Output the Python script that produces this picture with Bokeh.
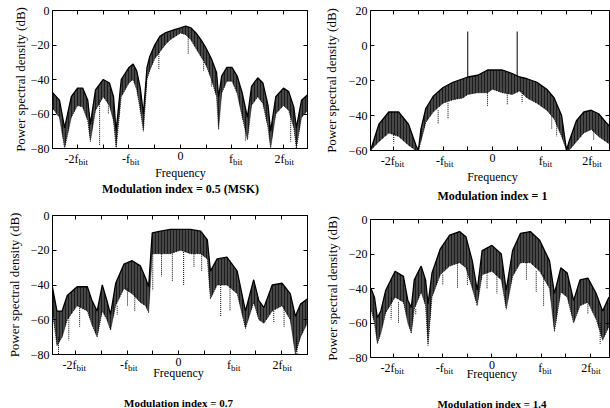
from bokeh.plotting import figure
from bokeh.models import Range1d, LinearAxis, FixedTicker
from bokeh.layouts import column, row
from bokeh.embed import file_html
from bokeh.resources import INLINE
from bokeh.core.properties import value

# ---------------- data ----------------
# frequency in units of f_bit, PSD in dB (upper edge / lower edge of the dense band)
msk_f = [-2.5, -2.35, -2.25, -2.12, -2.0, -1.9, -1.8, -1.75, -1.65, -1.5,
         -1.38, -1.3, -1.25, -1.15, -1.0, -0.92, -0.85, -0.78, -0.72, -0.65,
         -0.6, -0.5, -0.4, -0.3, -0.2, -0.1, 0.0, 0.1, 0.2, 0.3,
         0.4, 0.5, 0.6, 0.7, 0.74, 0.8, 0.9, 1.0, 1.1, 1.2,
         1.3, 1.38, 1.5, 1.6, 1.7, 1.75, 1.85, 2.0, 2.1, 2.2,
         2.25, 2.35, 2.5]
msk_up = [-47, -52, -68, -50, -45, -45, -52, -66, -46, -40,
          -42, -50, -70, -40, -33, -31, -35, -45, -60, -33,
          -27, -20, -15, -13, -12, -11, -10, -9, -10, -13,
          -17, -22, -28, -36, -50, -38, -33, -33, -38, -48,
          -62, -44, -39, -42, -55, -70, -50, -45, -47, -56,
          -68, -52, -48]
msk_lo = [-56, -62, -80, -62, -55, -56, -64, -76, -58, -50,
          -55, -64, -80, -50, -42, -40, -46, -58, -70, -40,
          -35, -28, -24, -20, -17, -15, -13, -14, -17, -22,
          -27, -32, -40, -50, -69, -48, -41, -41, -48, -62,
          -75, -55, -50, -54, -68, -80, -60, -55, -58, -68,
          -80, -62, -57]
msk_dip_f = [-1.57, -1.4, -0.42, 0.15, 0.45, 0.6, 1.26, 2.14]
msk_dip_top = [-52, -54, -24, -14, -30, -40, -62, -57]
msk_dip_bot = [-78, -60, -34, -25, -35, -44, -76, -76]

h1_f = [-2.47, -2.3, -2.1, -1.9, -1.7, -1.55, -1.5, -1.45, -1.35, -1.2,
        -1.0, -0.8, -0.6, -0.5, -0.3, -0.1, 0.0, 0.2, 0.4, 0.55,
        0.7, 0.9, 1.1, 1.25, 1.4, 1.5, 1.55, 1.7, 1.85, 2.0,
        2.15, 2.3, 2.4]
h1_up = [-60, -45, -38, -38, -45, -57, -60, -48, -36, -29,
         -24, -21, -19, -18, -17, -14, -14, -14, -16, -18,
         -19, -21, -25, -30, -40, -60, -55, -43, -38, -37,
         -39, -44, -47]
h1_lo = [-60, -55, -50, -52, -57, -60, -60, -55, -44, -38,
         -33, -31, -30, -28, -27, -27, -25, -27, -28, -26,
         -30, -33, -37, -42, -52, -60, -60, -55, -50, -48,
         -52, -55, -57]
h1_line_f = [-0.5, 0.5]
h1_line_top = [8, 8]
h1_line_bot = [-18, -18]
h1_dip_f = [-2.0, -1.1, -0.9, -0.1, 0.3, 0.6, 1.2, 1.3, 2.05]
h1_dip_top = [-50, -37, -33, -27, -27, -26, -40, -45, -48]
h1_dip_bot = [-56, -45, -42, -35, -34, -33, -48, -52, -54]

h07_f = [-2.45, -2.36, -2.26, -2.16, -1.97, -1.77, -1.68, -1.58, -1.48, -1.39,
         -1.32, -1.22, -1.06, -0.9, -0.74, -0.64, -0.58, -0.51, -0.35, -0.16,
         0.04, 0.23, 0.43, 0.56, 0.62, 0.75, 0.94, 1.14, 1.3, 1.46,
         1.56, 1.66, 1.82, 2.01, 2.17, 2.27, 2.37, 2.5]
h07_up = [-41, -55, -55, -46, -41, -41, -49, -55, -40, -49,
          -57, -39, -28, -26, -29, -36, -41, -10, -9, -8,
          -8, -8, -9, -14, -32, -25, -24, -32, -55, -37,
          -49, -53, -40, -39, -45, -58, -51, -48]
h07_lo = [-55, -75, -70, -60, -52, -55, -63, -70, -55, -60,
          -66, -52, -42, -45, -50, -52, -56, -22, -22, -22,
          -20, -22, -22, -25, -48, -40, -40, -45, -65, -50,
          -60, -62, -55, -52, -60, -80, -70, -62]
h07_dip_f = [-2.33, -2.13, -1.92, -1.19, -0.99, -0.85, -0.5, -0.33, -0.12,
             0.1, 0.3, 0.45, 0.82, 1.0, 1.85, 2.05, 2.3]
h07_dip_top = [-70, -58, -52, -52, -42, -45, -22, -22, -22,
               -21, -22, -22, -40, -41, -55, -52, -70]
h07_dip_bot = [-80, -72, -64, -57, -52, -55, -43, -35, -38,
               -40, -30, -32, -58, -55, -62, -64, -80]

h14_f = [-2.46, -2.39, -2.33, -2.26, -2.16, -1.97, -1.8, -1.71, -1.64, -1.58,
         -1.44, -1.35, -1.3, -1.22, -1.05, -0.86, -0.66, -0.53, -0.4, -0.3,
         -0.2, 0.0, 0.19, 0.29, 0.42, 0.58, 0.78, 0.97, 1.17, 1.27,
         1.4, 1.53, 1.66, 1.79, 1.95, 2.12, 2.25, 2.38]
h14_up = [-40, -45, -57, -53, -41, -30, -33, -47, -51, -35,
          -27, -35, -49, -31, -17, -9, -7, -10, -24, -41,
          -18, -15, -20, -41, -18, -8, -7, -12, -24, -43,
          -28, -31, -47, -35, -34, -43, -53, -45]
h14_lo = [-52, -60, -72, -66, -54, -45, -48, -60, -66, -52,
          -42, -50, -73, -45, -32, -27, -25, -28, -40, -50,
          -32, -30, -35, -52, -33, -25, -25, -30, -40, -65,
          -42, -45, -60, -50, -48, -58, -70, -62]
h14_dip_f = [-2.05, -1.9, -1.55, -1.0, -0.7, -0.5, -0.1, 0.1, 0.7, 0.9, 1.05, 1.95, 2.2]
h14_dip_top = [-45, -48, -52, -32, -25, -28, -30, -30, -25, -30, -32, -48, -60]
h14_dip_bot = [-58, -60, -55, -38, -40, -38, -40, -43, -35, -42, -50, -55, -72]

x_ticks = [-2.5, -2.0, -1.5, -1.0, -0.5, 0.0, 0.5, 1.0, 1.5, 2.0, 2.5]
x_label_pos = [-2, -1, 1, 2]
x_label_main = ["-2f", "-f", "f", "2f"]
x_label_sub = ["bit", "bit", "bit", "bit"]
y_ticks_a = [0, -20, -40, -60, -80]
y_ticks_b = [20, 0, -20, -40, -60]

titles = ["Modulation index = 0.5 (MSK)", "Modulation index = 1",
          "Modulation index = 0.7", "Modulation index = 1.4"]

SERIF = "Liberation Serif"
OVERLAP = 6


def tick_axis(ticks):
    return LinearAxis(ticker=FixedTicker(ticks=[], minor_ticks=ticks),
                      minor_tick_in=4, minor_tick_out=0, minor_tick_line_color="black",
                      major_tick_in=0, major_tick_out=0, major_label_standoff=0,
                      axis_line_color="black")


def panel(f, up, lo, dip_f, dip_top, dip_bot, yticks, xr, yr, w, h, bl, br, bt,
          ylab_standoff, line_f=None, line_top=None, line_bot=None):
    p = figure(width=w, height=h, x_range=xr, y_range=Range1d(*yr),
               output_backend="svg", toolbar_location=None,
               x_axis_location=None, y_axis_location=None,
               min_border_left=bl, min_border_right=br,
               min_border_top=bt, min_border_bottom=OVERLAP + 2,
               background_fill_color="white", border_fill_color="white")
    p.grid.visible = False
    p.outline_line_color = "black"
    p.outline_line_width = 1

    ya = LinearAxis(ticker=FixedTicker(ticks=yticks))
    ya.major_tick_in = 4
    ya.major_tick_out = 0
    ya.minor_tick_line_color = None
    ya.major_label_text_font = SERIF
    ya.major_label_text_font_size = "12px"
    ya.major_label_text_color = "black"
    ya.major_label_standoff = 3
    ya.axis_label = "Power spectral density (dB)"
    ya.axis_label_text_font = SERIF
    ya.axis_label_text_font_size = "13px"
    ya.axis_label_text_font_style = "normal"
    ya.axis_label_text_color = "black"
    ya.axis_label_standoff = ylab_standoff
    ya.axis_line_color = "black"
    p.add_layout(ya, "left")

    p.add_layout(tick_axis(x_ticks), "below")
    p.add_layout(tick_axis(x_ticks), "above")
    p.add_layout(tick_axis(yticks), "right")

    p.varea(x=f, y1=lo, y2=up, fill_color="#333333", fill_alpha=0.9,
            hatch_pattern="vertical_line", hatch_color="#000000",
            hatch_scale=3, hatch_weight=1, hatch_alpha=0.6)
    p.line(f, up, line_color="black", line_width=1.3)
    p.line(f, lo, line_color="black", line_width=0.8, line_dash="1 1")
    p.segment(x0=dip_f, y0=dip_top, x1=dip_f, y1=dip_bot,
              line_color="black", line_width=1, line_dash="1 1")
    if line_f is not None:
        p.segment(x0=line_f, y0=line_bot, x1=line_f, y1=line_top,
                  line_color="black", line_width=1)
    return p


def strip(xr, w, hs, bl, br, tick_top, freq_mid, title, title_mid, title_size):
    s = figure(width=w, height=hs, x_range=xr, y_range=Range1d(0, hs),
               output_backend="svg", toolbar_location=None,
               x_axis_location=None, y_axis_location=None,
               min_border_left=bl, min_border_right=br,
               min_border_top=0, min_border_bottom=0,
               background_fill_alpha=0, border_fill_alpha=0,
               margin=(-OVERLAP, 0, 0, 0))
    s.grid.visible = False
    s.outline_line_color = None
    font = value(SERIF)
    s.text(x=x_label_pos, y=[hs - tick_top] * len(x_label_pos), text=x_label_main,
           text_font=font, text_font_size=value("12px"), text_align="right",
           text_baseline="top", text_color="black", x_offset=1)
    s.text(x=x_label_pos, y=[hs - tick_top - 5] * len(x_label_pos), text=x_label_sub,
           text_font=font, text_font_size=value("9px"), text_align="left",
           text_baseline="top", text_color="black", x_offset=1)
    s.text(x=[0], y=[hs - tick_top], text=["0"],
           text_font=font, text_font_size=value("12px"), text_align="center",
           text_baseline="top", text_color="black")
    s.text(x=[0], y=[hs - freq_mid], text=["Frequency"],
           text_font=font, text_font_size=value("12px"), text_align="center",
           text_baseline="middle", text_color="black")
    s.text(x=[0], y=[hs - title_mid], text=[title],
           text_font=font, text_font_size=value(title_size), text_font_style="bold",
           text_align="center", text_baseline="middle", text_color="black")
    return s


xr_a = Range1d(-2.485, 2.466)
xr_b = Range1d(-2.47, 2.37)
xr_c = Range1d(-2.447, 2.505)
xr_d = Range1d(-2.47, 2.39)

# column 1 (x 0..320)
pa = panel(msk_f, msk_up, msk_lo, msk_dip_f, msk_dip_top, msk_dip_bot, y_ticks_a,
           xr_a, (-80, 0), 320, 156, 52, 13, 10, 0)
sa = strip(xr_a, 320, 56, 52, 13, 1, 22, titles[0], 38, "12px")
pc = panel(h07_f, h07_up, h07_lo, h07_dip_f, h07_dip_top, h07_dip_bot, y_ticks_a,
           xr_c, (-80, 0), 320, 156, 52, 13, 9, 6)
sc = strip(xr_c, 320, 52, 52, 13, 1, 16, titles[2], 46, "11px")

# column 2 (x 320..610)
pb = panel(h1_f, h1_up, h1_lo, h1_dip_f, h1_dip_top, h1_dip_bot, y_ticks_b,
           xr_b, (-60, 20), 290, 158, 42, 1, 10, 7,
           h1_line_f, h1_line_top, h1_line_bot)
sb = strip(xr_b, 290, 56, 42, 1, 1, 24, titles[1], 43, "12px")
pd = panel(h14_f, h14_up, h14_lo, h14_dip_f, h14_dip_top, h14_dip_bot, y_ticks_a,
           xr_d, (-80, 0), 290, 157, 41, 1, 11, 6)
sd = strip(xr_d, 290, 49, 41, 1, 1, 14, titles[3], 44, "11px")

layout = row(column(pa, sa, pc, sc), column(pb, sb, pd, sd))
open("out.html", "w").write(file_html(layout, INLINE))
